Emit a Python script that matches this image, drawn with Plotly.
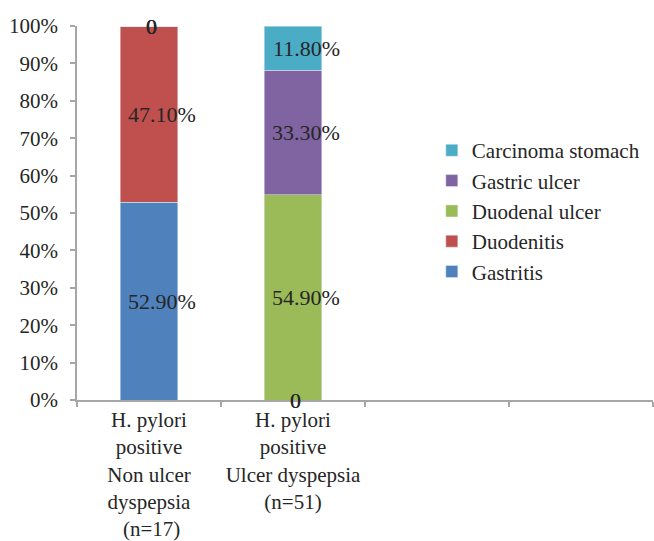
import plotly.graph_objects as go

# ---- data ----
groups = ["H. pylori<br>positive<br>Non ulcer<br>dyspepsia<br> (n=17)",
          "H. pylori<br>positive<br>Ulcer dyspepsia<br>(n=51)"]
series_names = ["Gastritis", "Duodenitis", "Duodenal ulcer", "Gastric ulcer", "Carcinoma stomach"]
gastritis = [52.9, 0]
duodenitis = [47.1, 0]
duodenal_ulcer = [0, 54.9]
gastric_ulcer = [0, 33.3]
carcinoma_stomach = [0, 11.8]
y_ticks = [0, 10, 20, 30, 40, 50, 60, 70, 80, 90, 100]

series_values = [gastritis, duodenitis, duodenal_ulcer, gastric_ulcer, carcinoma_stomach]
colors = ["#4F81BD", "#C0504D", "#9BBB59", "#8064A2", "#4BACC6"]

FONT = "Liberation Serif"
xpos = list(range(len(groups)))

fig = go.Figure()
for name, vals, col in zip(series_names, series_values, colors):
    fig.add_trace(go.Bar(x=xpos, y=vals, name=name, marker_color=col,
                         width=0.4, hoverinfo="skip"))

# data labels
annotations = []
cum = [0.0] * len(groups)
for vals in series_values:
    for i, v in enumerate(vals):
        mid = cum[i] + v / 2
        txt = "0" if v == 0 else f"{v:.2f}%"
        annotations.append(dict(x=xpos[i], y=mid, xref="x", yref="y", text=txt,
                                showarrow=False, xshift=(2 if v == 0 else 13),
                                font=dict(family=FONT, size=22, color="#262626")))
        cum[i] += v

axis_col = "#A6A6A6"
fig.update_layout(
    width=654, height=541,
    margin=dict(l=77, r=1, t=26, b=141),
    barmode="stack",
    plot_bgcolor="white", paper_bgcolor="white",
    font=dict(family=FONT, size=21, color="#262626"),
    showlegend=True,
    legend=dict(x=0.616, xanchor="left", y=0.505, yanchor="middle",
                traceorder="reversed", font=dict(family=FONT, size=21, color="#262626"),
                itemwidth=30, bgcolor="rgba(0,0,0,0)"),
    annotations=annotations,
    xaxis=dict(range=[-0.5, 3.5], tickmode="array", tickvals=xpos, ticktext=groups,
               ticks="", showline=True, linecolor=axis_col, linewidth=1.5,
               showgrid=False, zeroline=False, fixedrange=True, automargin=False,
               minor=dict(tickmode="linear", tick0=-0.5, dtick=1, ticks="outside",
                          ticklen=5, tickcolor=axis_col, tickwidth=1.5, showgrid=False)),
    yaxis=dict(range=[0, 100], tickmode="array", tickvals=y_ticks,
               ticktext=[f"{t}%" for t in y_ticks],
               ticks="outside", ticklen=5, tickcolor=axis_col, tickwidth=1.5,
               ticklabelstandoff=8,
               showline=True, linecolor=axis_col, linewidth=1.5, automargin=False,
               showgrid=False, zeroline=False, fixedrange=True),
)

fig.write_html("out.html", config={"displayModeBar": False},
               post_script="document.body.style.margin='0';document.body.style.overflow='hidden';")
